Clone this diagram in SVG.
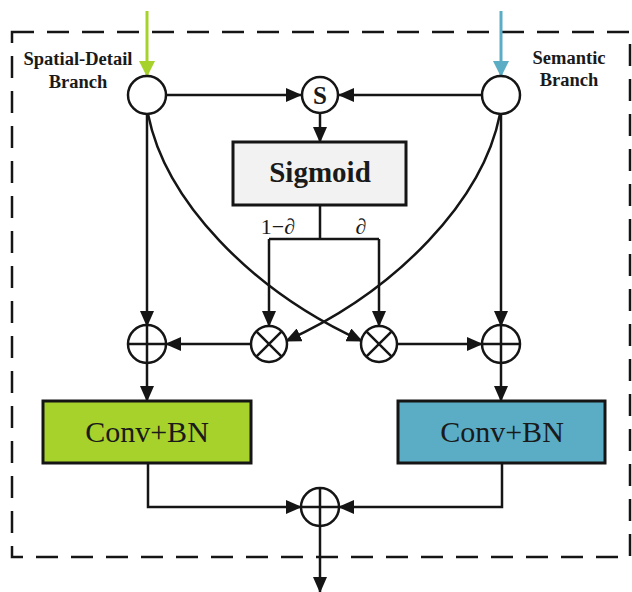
<svg xmlns="http://www.w3.org/2000/svg" width="632" height="592" viewBox="0 0 632 592">
<style>
.ln{fill:none;stroke:#151515;stroke-width:2.5}
.nd{fill:#fff;stroke:#151515;stroke-width:2.5}
.box{stroke:#151515;stroke-width:3}
.lbl{font-family:"Liberation Serif","Times New Roman",serif;font-weight:bold;font-size:18.5px;fill:#1a1a1a;text-anchor:middle}
.big{font-family:"Liberation Serif","Times New Roman",serif;font-size:30px;fill:#1a1a1a;text-anchor:middle}
.math{font-family:"Liberation Serif","Times New Roman",serif;font-size:22px;fill:#1a1a1a;text-anchor:middle}
.bold{font-family:"Liberation Serif","Times New Roman",serif;font-weight:bold;fill:#1a1a1a;text-anchor:middle}
</style>
<defs>
<marker id="ah" markerUnits="userSpaceOnUse" markerWidth="16" markerHeight="14" viewBox="0 0 16 14" refX="15" refY="7" orient="auto"><path d="M0,0 L16,7 L0,14 Z" fill="#151515"/></marker>
<marker id="ahg" markerUnits="userSpaceOnUse" markerWidth="16" markerHeight="16" viewBox="0 0 16 16" refX="15" refY="8" orient="auto"><path d="M0,0 L16,8 L0,16 Z" fill="#a6d22b"/></marker>
<marker id="ahb" markerUnits="userSpaceOnUse" markerWidth="16" markerHeight="16" viewBox="0 0 16 16" refX="15" refY="8" orient="auto"><path d="M0,0 L16,8 L0,16 Z" fill="#5badc5"/></marker>
</defs>
<rect width="632" height="592" fill="#fff"/>
<g id="frame"><rect x="12" y="32" width="618" height="525" fill="none" stroke="#151515" stroke-width="2.5" stroke-dasharray="22,13"/></g>
<g id="labels">
<text class="lbl" x="78" y="65">Spatial-Detail</text>
<text class="lbl" x="78" y="88">Branch</text>
<text class="lbl" x="569" y="64">Semantic</text>
<text class="lbl" x="569" y="86">Branch</text>
<text class="math" x="278" y="234">1−∂</text>
<text class="math" x="361" y="234">∂</text>
</g>
<g id="connectors">
<line x1="147" y1="11" x2="147" y2="76" stroke="#a6d22b" stroke-width="3" marker-end="url(#ahg)"/>
<line x1="501" y1="11" x2="501" y2="76" stroke="#5badc5" stroke-width="3" marker-end="url(#ahb)"/>
<line class="ln" x1="166" y1="95" x2="301" y2="95" marker-end="url(#ah)"/>
<line class="ln" x1="482" y1="95" x2="339" y2="95" marker-end="url(#ah)"/>
<line class="ln" x1="320" y1="113" x2="320" y2="142" marker-end="url(#ah)"/>
<path class="ln" d="M320,205 V239 M269,239 H379"/>
<line class="ln" x1="269" y1="239" x2="269" y2="326" marker-end="url(#ah)"/>
<line class="ln" x1="379" y1="239" x2="379" y2="326" marker-end="url(#ah)"/>
<line class="ln" x1="147" y1="114" x2="147" y2="326" marker-end="url(#ah)"/>
<line class="ln" x1="501" y1="114" x2="501" y2="326" marker-end="url(#ah)"/>
<path class="ln" d="M148,114 C165,200 250,290 362,341" marker-end="url(#ah)"/>
<path class="ln" d="M500,114 C483,200 398,290 286,341" marker-end="url(#ah)"/>
<line class="ln" x1="251" y1="344" x2="166" y2="344" marker-end="url(#ah)"/>
<line class="ln" x1="397" y1="344" x2="482" y2="344" marker-end="url(#ah)"/>
<line class="ln" x1="147" y1="363" x2="147" y2="401" marker-end="url(#ah)"/>
<line class="ln" x1="501" y1="363" x2="501" y2="401" marker-end="url(#ah)"/>
<path class="ln" d="M148,463 V507 H301" marker-end="url(#ah)"/>
<path class="ln" d="M502,463 V507 H339" marker-end="url(#ah)"/>
<line class="ln" x1="320" y1="526" x2="320" y2="592" marker-end="url(#ah)"/>
</g>
<g id="in-spatial"><circle class="nd" cx="147" cy="95" r="19"/></g>
<g id="in-semantic"><circle class="nd" cx="501" cy="95" r="19"/></g>
<g id="sum-s"><circle class="nd" cx="320" cy="95" r="18"/><text class="bold" x="320" y="104" font-size="25">S</text></g>
<g id="sigmoid"><rect class="box" x="233" y="142" width="173" height="63" fill="#f2f2f2"/><text class="bold" x="320" y="182" font-size="29">Sigmoid</text></g>
<g id="mul-left"><circle class="nd" cx="269" cy="344" r="18"/><path class="ln" d="M256.3,331.3 L281.7,356.7 M281.7,331.3 L256.3,356.7"/></g>
<g id="mul-right"><circle class="nd" cx="379" cy="344" r="18"/><path class="ln" d="M366.3,331.3 L391.7,356.7 M391.7,331.3 L366.3,356.7"/></g>
<g id="add-left"><circle class="nd" cx="147" cy="344" r="19"/><path class="ln" d="M128,344 H166 M147,325 V363"/></g>
<g id="add-right"><circle class="nd" cx="501" cy="344" r="19"/><path class="ln" d="M482,344 H520 M501,325 V363"/></g>
<g id="conv-left"><rect class="box" x="43" y="401" width="208" height="62" fill="#a6d22b"/><text class="big" x="147" y="442">Conv+BN</text></g>
<g id="conv-right"><rect class="box" x="398" y="401" width="207" height="62" fill="#5badc5"/><text class="big" x="502" y="442">Conv+BN</text></g>
<g id="add-out"><circle class="nd" cx="320" cy="507" r="19"/><path class="ln" d="M301,507 H339 M320,488 V526"/></g>
</svg>
